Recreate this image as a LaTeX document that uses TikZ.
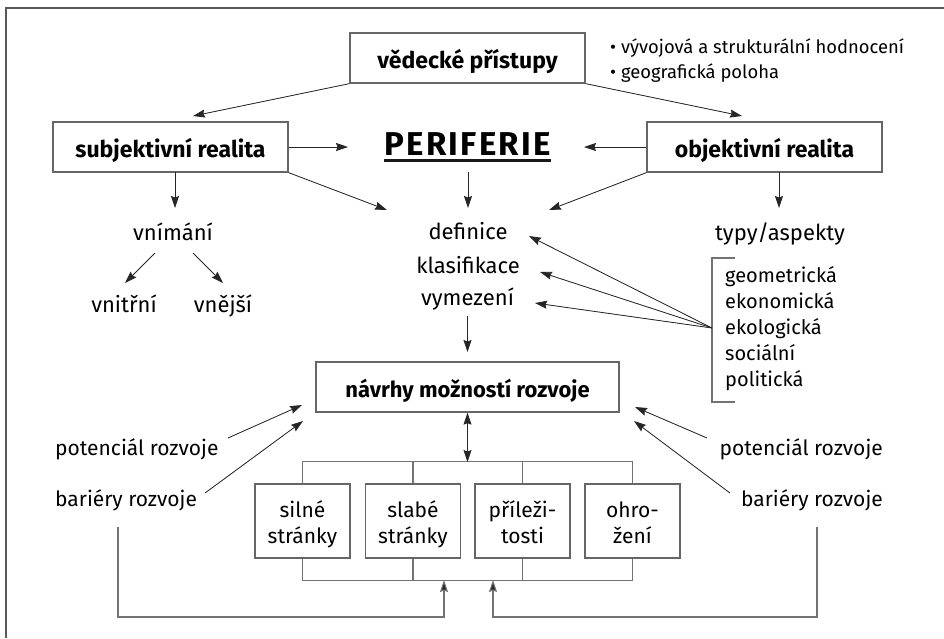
\documentclass[tikz,border=0pt]{standalone}
\usepackage{fontspec}
\setmainfont{Fira Sans}
\usetikzlibrary{arrows.meta,calc}
\begin{document}
\begin{tikzpicture}[x=1pt,y=-1pt,
  box/.style={draw=black!60, line width=1.3pt, inner sep=0pt, minimum width=235pt, minimum height=50pt,
    text height=20pt, text depth=0pt, font=\fontsize{23}{27}\selectfont\bfseries},
  swot/.style={draw=black!60, line width=1.3pt, inner sep=0pt, minimum width=95pt, minimum height=74pt},
  txt/.style={inner sep=0pt, anchor=base, font=\fontsize{22}{26}\selectfont},
  ltxt/.style={inner sep=0pt, anchor=base west, font=\fontsize{20}{24}\selectfont},
  stxt/.style={inner sep=0pt, anchor=base, font=\fontsize{21}{26}\selectfont},
  arr/.style={-{Stealth[length=12pt,width=8pt,inset=1.5pt]}, line width=0.8pt, draw=black!85, fill=black!85},
  darr/.style={{Stealth[length=12pt,width=8pt,inset=1.5pt]}-{Stealth[length=12pt,width=8pt,inset=1.5pt]}, line width=0.8pt, draw=black!85},
  garr/.style={-{Stealth[length=12pt,width=8pt,inset=1.5pt,fill=black!85]}, line width=1.1pt, draw=black!55},
  bus/.style={line width=1.1pt, draw=black!55},
  frame/.style={line width=2pt, draw=black!65}
]
\useasboundingbox (0,0) rectangle (944,638);
% frame (top and left only)
\draw[frame] (944,8) -- (6,8) -- (6,638);

% main boxes
\node[box] (ved) at (467.5,58) {vědecké přístupy};
\node[box] (subj) at (170.5,147) {subjektivní realita};
\node[box] (obj) at (764.5,147) {objektivní realita};
\node[box, minimum width=303pt, font=\fontsize{22}{26}\selectfont\bfseries] (nav) at (467.5,387) {návrhy možností rozvoje};

% bullets
\node[inner sep=0pt, anchor=base west, font=\fontsize{18.4}{22}\selectfont] (b1) at (610,53) {• vývojová a strukturální hodnocení};
\node[inner sep=0pt, anchor=base west, font=\fontsize{18.4}{22}\selectfont] (b2) at (610,78) {• geografická poloha};

% PERIFERIE
\node[inner sep=0pt, anchor=base, font=\fontsize{33}{33}\selectfont\bfseries\addfontfeature{LetterSpace=7}] (per) at (467.5,155) {PERIFERIE};
\draw[line width=2.2pt, black!90] ($(per.base west)+(0,5.5)$) -- ($(per.base east)+(0,5.5)$);

% second row texts
\node[txt] (vnim) at (173,240) {vnímání};
\node[txt] (def) at (468,239) {definice};
\node[txt] (kla) at (468,273) {klasifikace};
\node[txt] (vym) at (467.5,305) {vymezení};
\node[txt] (typ) at (780,240) {typy/aspekty};
\node[txt] (vni) at (124,312) {vnitřní};
\node[txt] (vne) at (223,312) {vnější};

% list with bracket
\node[ltxt] (l1) at (725,282) {geometrická};
\node[ltxt] (l2) at (725,308) {ekonomická};
\node[ltxt] (l3) at (725,334) {ekologická};
\node[ltxt] (l4) at (725,360) {sociální};
\node[ltxt] (l5) at (725,386) {politická};
\coordinate (brT) at (712,258);
\coordinate (brB) at (712,402);
\coordinate (brM) at (712,328);
\draw[bus] (735,258) -- (brT) -- (brB) -- (735,402);

% side labels
\node[stxt, anchor=base west] (potL) at (55,455) {potenciál rozvoje};
\node[stxt, anchor=base west] (barL) at (55,506) {bariéry rozvoje};
\node[stxt, anchor=base east] (potR) at (883,455) {potenciál rozvoje};
\node[stxt, anchor=base east] (barR) at (883,506) {bariéry rozvoje};

% SWOT boxes
\node[swot] (s1) at (302.5,521) {};
\node[swot] (s2) at (413,521) {};
\node[swot] (s3) at (522.5,521) {};
\node[swot] (s4) at (632.5,521) {};
\node[stxt] (s1a) at (302.5,517) {silné};
\node[stxt] (s1b) at (302.5,543) {stránky};
\node[stxt] (s2a) at (413,517) {slabé};
\node[stxt] (s2b) at (413,543) {stránky};
\node[stxt] (s3a) at (522.5,517) {příleži-};
\node[stxt] (s3b) at (522.5,543) {tosti};
\node[stxt] (s4a) at (632.5,517) {ohro-};
\node[stxt] (s4b) at (632.5,543) {žení};

% buses
\draw[bus] (s1.north) -- ++(0,-22) -| (s4.north);
\draw[bus] (s2.north) -- ++(0,-22);
\draw[bus] (s3.north) -- ++(0,-22);
\draw[bus] (s1.south) -- ++(0,22) -| (s4.south);
\draw[bus] (s2.south) -- ++(0,22);
\draw[bus] (s3.south) -- ++(0,22);
\coordinate (busT) at (467.5,462);

% arrow end points
\coordinate (tSubj) at (193,116);
\coordinate (tObj) at (742,116);
\coordinate (tPerL) at (348,147);
\coordinate (tPerR) at (584,147);
\coordinate (sD1) at (175,172);
\coordinate (tVnim) at (175,208);
\coordinate (tDefL) at (387,210);
\coordinate (pD1) at (468,172);
\coordinate (tDefC) at (468,208);
\coordinate (tDefR) at (549,210);
\coordinate (oD1) at (779,172);
\coordinate (tTyp) at (779,208);
\coordinate (vA) at (155,253);
\coordinate (vAt) at (125,283);
\coordinate (vB) at (193,253);
\coordinate (vBt) at (223,283);
\coordinate (tD) at (529,236);
\coordinate (tK) at (540,272);
\coordinate (tV) at (535,303);
\coordinate (vymD) at (467.5,316);
\coordinate (tNav) at (467.5,352);
\coordinate (pLs) at (228,438);
\coordinate (pLt) at (302,405);
\coordinate (bLs) at (205,493);
\coordinate (bLt) at (303,421);
\coordinate (pRs) at (707,438);
\coordinate (pRt) at (635,407);
\coordinate (bRs) at (730,493);
\coordinate (bRt) at (634,421);
\coordinate (fbL) at (118,527);
\coordinate (fbLt) at (444,580);
\coordinate (fbR) at (817,527);
\coordinate (fbRt) at (493,580);

% arrows
\draw[arr] (ved.south west) -- (tSubj);
\draw[arr] (ved.south east) -- (tObj);
\draw[arr] (subj.east) -- (tPerL);
\draw[arr] (obj.west) -- (tPerR);
\draw[arr] (sD1) -- (tVnim);
\draw[arr] (subj.south east) -- (tDefL);
\draw[arr] (pD1) -- (tDefC);
\draw[arr] (obj.south west) -- (tDefR);
\draw[arr] (oD1) -- (tTyp);
\draw[arr] (vA) -- (vAt);
\draw[arr] (vB) -- (vBt);
\draw[arr] (brM) -- (tD);
\draw[arr] (brM) -- (tK);
\draw[arr] (brM) -- (tV);
\draw[arr] (vymD) -- (tNav);
\draw[darr] (nav.south) -- (busT);
\draw[arr] (pLs) -- (pLt);
\draw[arr] (bLs) -- (bLt);
\draw[arr] (pRs) -- (pRt);
\draw[arr] (bRs) -- (bRt);
\draw[garr] (fbL) |- ($(fbLt)+(0,37)$) -- (fbLt);
\draw[garr] (fbR) |- ($(fbRt)+(0,37)$) -- (fbRt);
\end{tikzpicture}
\end{document}
